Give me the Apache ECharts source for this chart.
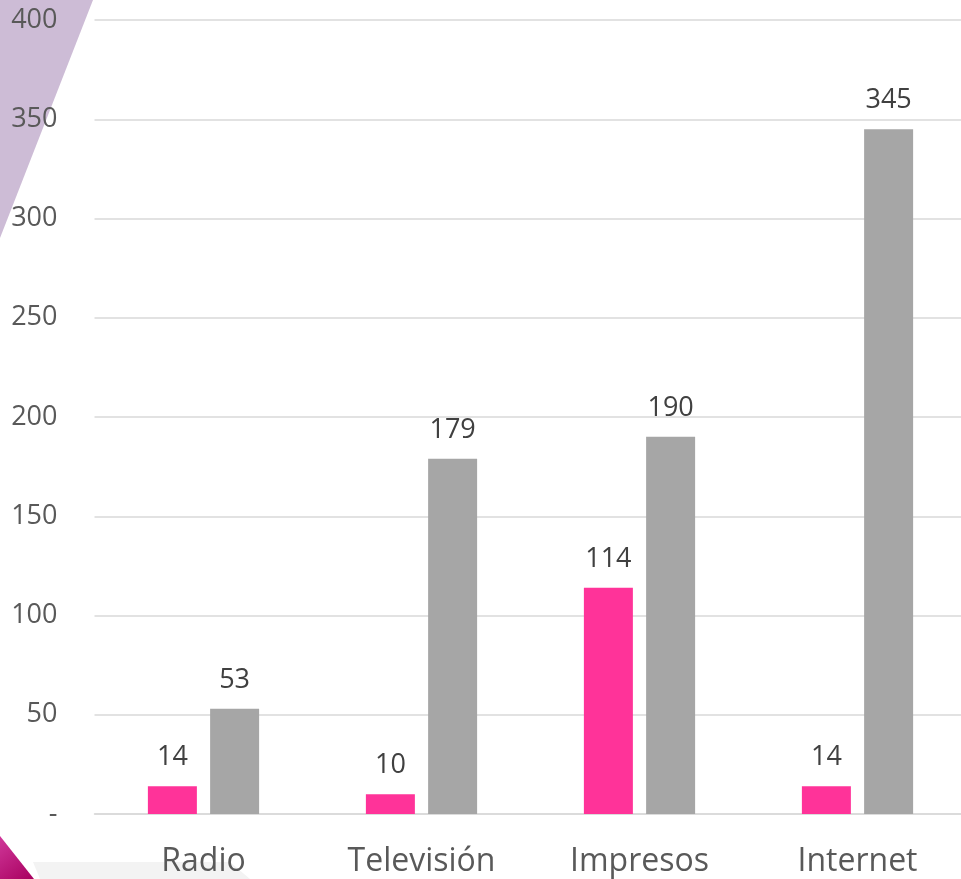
<!DOCTYPE html>
<html><head><meta charset="utf-8">
<script src="https://cdn.jsdelivr.net/npm/echarts@6/dist/echarts.min.js"></script>
<style>html,body{margin:0;padding:0;background:#fff}#c{width:961px;height:879px}</style>
</head><body><div id="c"></div>
<script>
const categories = ['Radio', 'Televisión', 'Impresos', 'Internet'];
const seriesA = [14, 10, 114, 14];
const seriesB = [53, 179, 190, 345];
const yTicks = [0, 50, 100, 150, 200, 250, 300, 350, 400];

const chart = echarts.init(document.getElementById('c'));
const font = '"Open Sans", "Noto Sans", sans-serif';
const lbl = {show: true, position: 'top', distance: 15, color: '#404040', fontSize: 27, fontFamily: font};
chart.setOption({
  animation: false,
  graphic: [
    {type: 'polygon', z: -10, shape: {points: [[0,0],[93,0],[0,238]]}, style: {fill: '#cdbcd6'}},
    {type: 'polygon', z: -10, shape: {points: [[33,862],[230,862],[250,879],[40,879]]}, style: {fill: '#f3f3f3'}},
    {type: 'polygon', z: -9, shape: {points: [[0,836],[34,879],[0,879]]}, style: {fill: new echarts.graphic.LinearGradient(0,0,1,1,[{offset:0,color:'#d0389a'},{offset:1,color:'#a8005f'}])}}
  ],
  grid: {left: 94.5, width: 872, top: 20, height: 794, containLabel: false, outerBoundsMode: 'none'},
  xAxis: {
    type: 'category', data: categories,
    axisLine: {lineStyle: {color: '#d9d9d9', width: 1.5}},
    axisTick: {show: false},
    axisLabel: {color: '#595959', fontSize: 32, fontFamily: font, margin: 32}
  },
  yAxis: {
    type: 'value', min: 0, max: 400, interval: 50,
    axisLine: {show: false}, axisTick: {show: false},
    splitLine: {lineStyle: {color: '#d9d9d9', width: 1.5}},
    axisLabel: {color: '#595959', fontSize: 27, fontFamily: font, margin: 37,
      formatter: v => yTicks.includes(v) ? (v === 0 ? '-' : String(v)) : ''}
  },
  series: [
    {type: 'bar', data: seriesA, barWidth: 49, barGap: '27%', itemStyle: {color: '#ff3399'}, label: lbl},
    {type: 'bar', data: seriesB, barWidth: 49, itemStyle: {color: '#a6a6a6'}, label: lbl}
  ]
});
</script></body></html>
